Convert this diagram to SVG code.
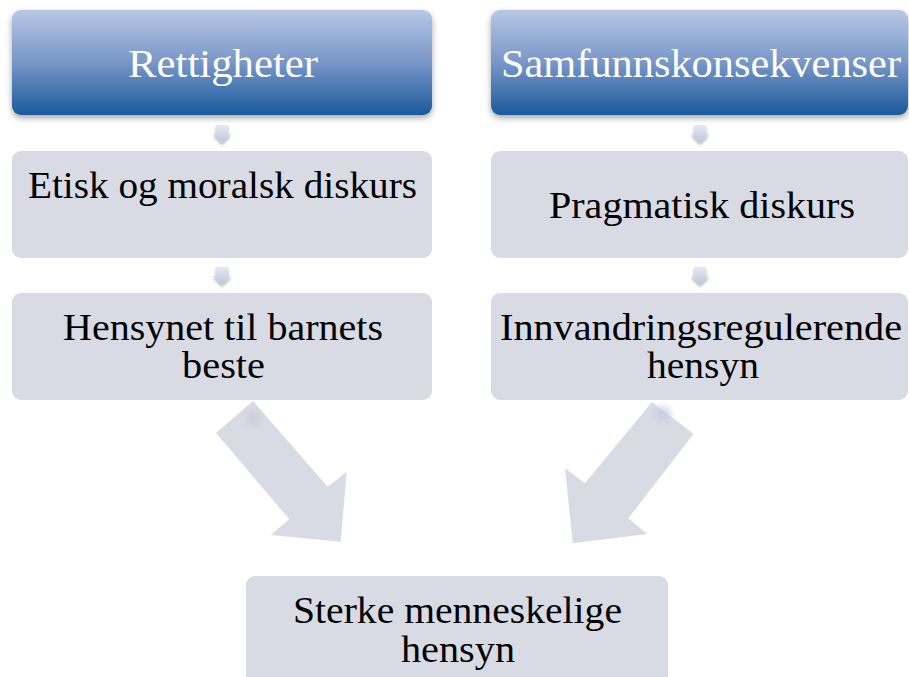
<svg xmlns="http://www.w3.org/2000/svg" width="909" height="677" viewBox="0 0 909 677">
  <defs>
    <linearGradient id="hdr" x1="0" y1="0" x2="0" y2="1">
      <stop offset="0" stop-color="#b8c8e7"/>
      <stop offset="0.5" stop-color="#7896c7"/>
      <stop offset="1" stop-color="#1b5a9c"/>
    </linearGradient>
    <linearGradient id="sarrow" x1="0" y1="0" x2="0" y2="1">
      <stop offset="0" stop-color="#e6e9f1"/>
      <stop offset="1" stop-color="#bcc6da"/>
    </linearGradient>
    <filter id="shadow" x="-10%" y="-20%" width="120%" height="150%">
      <feDropShadow dx="0" dy="3" stdDeviation="3" flood-color="#000" flood-opacity="0.35"/>
    </filter>
    <filter id="sshadow" x="-50%" y="-50%" width="200%" height="200%">
      <feDropShadow dx="0" dy="2" stdDeviation="1.5" flood-color="#000" flood-opacity="0.3"/>
    </filter>
    <filter id="blur" x="-50%" y="-50%" width="200%" height="200%">
      <feGaussianBlur stdDeviation="3"/>
    </filter>
    <path id="small" d="M-6,0 H6 V9 H9 L0,18 L-9,9 H-6 Z"/>
  </defs>
  <style>
    .hdr { fill: url(#hdr); filter: url(#shadow); }
    .box { fill: #d8dbe3; }
    .big { fill: #d8dbe3; }
    .sm { fill: url(#sarrow); filter: url(#sshadow); }
    text { font-family: "Liberation Serif", "Times New Roman", serif; text-anchor: middle; }
    .ht { fill: #ffffff; font-size: 40px; }
    .bt { fill: #000000; font-size: 38px; }
  </style>
  <rect width="909" height="677" fill="#ffffff"/>

  <g id="connectors">
    <polygon class="big" points="253,401 327.7,486.7 346.7,471.7 340.7,541.7 270.7,535 289.3,519.3 216,433"/>
    <polygon class="big" points="652,402 693.5,434 628.3,518.3 647.3,534 572.7,543.3 565,468.3 585,483.3"/>
    <circle cx="254" cy="418" r="8" fill="#c9ccd6" filter="url(#blur)" opacity="0.7"/>
    <circle cx="663" cy="414" r="8" fill="#c2cbe6" filter="url(#blur)" opacity="0.7"/>
    <use href="#small" class="sm" transform="translate(222,125)"/>
    <use href="#small" class="sm" transform="translate(222,267)"/>
    <use href="#small" class="sm" transform="translate(700,125)"/>
    <use href="#small" class="sm" transform="translate(700,267)"/>
  </g>

  <g id="node-rettigheter">
    <rect class="hdr" x="12" y="10" width="420" height="105" rx="9"/>
    <text class="ht" x="223" y="77" textLength="190" lengthAdjust="spacingAndGlyphs">Rettigheter</text>
  </g>
  <g id="node-samfunnskonsekvenser">
    <rect class="hdr" x="491" y="10" width="417" height="105" rx="9"/>
    <text class="ht" x="701" y="77" textLength="400" lengthAdjust="spacingAndGlyphs">Samfunnskonsekvenser</text>
  </g>
  <g id="node-etisk">
    <rect class="box" x="12" y="151" width="420" height="107" rx="9"/>
    <text class="bt" x="222.5" y="198" textLength="389" lengthAdjust="spacingAndGlyphs">Etisk og moralsk diskurs</text>
  </g>
  <g id="node-pragmatisk">
    <rect class="box" x="491" y="151" width="417" height="107" rx="9"/>
    <text class="bt" x="702" y="218" textLength="306" lengthAdjust="spacingAndGlyphs">Pragmatisk diskurs</text>
  </g>
  <g id="node-barnets-beste">
    <rect class="box" x="12" y="293" width="420" height="107" rx="9"/>
    <text class="bt" x="223" y="340" textLength="320" lengthAdjust="spacingAndGlyphs">Hensynet til barnets</text>
    <text class="bt" x="223.5" y="378" textLength="83" lengthAdjust="spacingAndGlyphs">beste</text>
  </g>
  <g id="node-innvandring">
    <rect class="box" x="491" y="293" width="417" height="107" rx="9"/>
    <text class="bt" x="701" y="340" textLength="402" lengthAdjust="spacingAndGlyphs">Innvandringsregulerende</text>
    <text class="bt" x="703" y="378" textLength="112" lengthAdjust="spacingAndGlyphs">hensyn</text>
  </g>
  <g id="node-sterke">
    <rect class="box" x="246" y="576" width="422" height="120" rx="9"/>
    <text class="bt" x="457.5" y="623" textLength="329" lengthAdjust="spacingAndGlyphs">Sterke menneskelige</text>
    <text class="bt" x="458" y="662" textLength="114" lengthAdjust="spacingAndGlyphs">hensyn</text>
  </g>
</svg>
